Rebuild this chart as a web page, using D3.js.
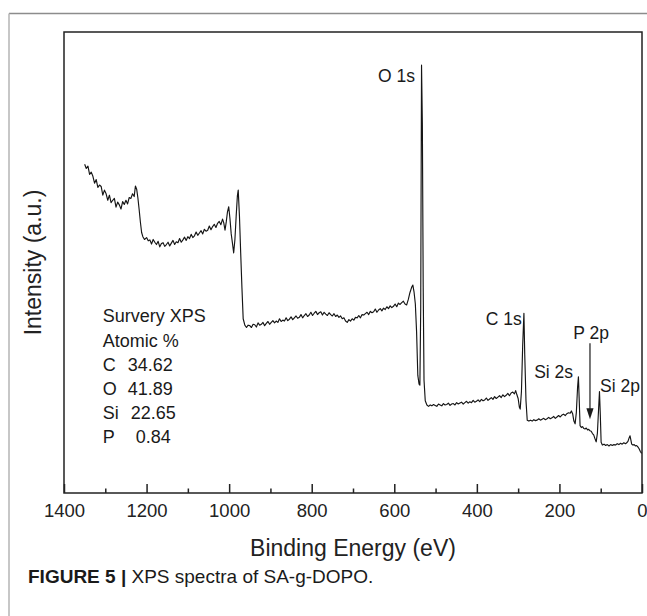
<!DOCTYPE html>
<html><head><meta charset="utf-8">
<script src="https://cdn.jsdelivr.net/npm/d3@7"></script>
<style>
html,body{margin:0;padding:0;background:#fff;}
svg{display:block;font-family:"Liberation Sans",Arial,Helvetica,sans-serif;}
</style>
</head><body>
<svg id="chart" width="647" height="616"></svg>
<script>
// ---------------- DATA ----------------
const majorTicks = [1400, 1200, 1000, 800, 600, 400, 200, 0];
const minorTicks = [1300, 1100, 900, 700, 500, 300, 100];

// spectrum, split by region (binding energy in eV, intensity in a.u.)
const energyA = [1350,1346,1342,1338,1334,1330,1326,1322,1318,1314,1310,1306,1302,1298,1294,1290,1286,1282,1278,1274,1270,1266,1262,1258,1254,1250,1246,1242,1238,1234,1230,1227,1224,1221,1218,1215,1212,1209,1205];
const intensityA = [71.3,70.4,70.9,69.1,69.6,68.7,67.2,68.0,66.3,66.8,66.5,64.6,65.7,64.9,63.5,64.6,63.0,63.5,63.9,62.0,63.1,62.5,61.6,63.2,62.6,63.5,62.7,64.1,63.9,64.9,64.3,66.6,65.9,64.0,61.5,58.8,56.5,55.6,55.0];

const energyB = [1200,1196,1192,1188,1184,1180,1176,1172,1168,1164,1160,1156,1152,1148,1144,1140,1136,1132,1128,1124,1120,1116,1112,1108,1104,1100,1096,1092,1088,1084,1080,1076,1072,1068,1064,1060,1056,1052,1048,1044,1040,1036,1032,1028,1024,1020,1016,1013];
const intensityB = [55.4,54.7,54.9,54.0,55.0,54.4,53.9,54.6,53.4,54.1,54.3,53.5,53.9,54.4,53.6,54.2,54.8,53.9,54.5,54.3,55.2,54.4,54.9,55.5,54.8,55.6,55.2,56.1,55.4,55.8,56.6,55.9,56.4,56.9,56.2,57.2,56.8,57.0,57.9,57.1,57.8,58.3,57.6,58.5,58.9,58.2,59.4,58.6];

const energyC = [1010,1007,1004,1001,998,995,992,989,986,983,980,978,975,972,969,966,962];
const intensityC = [57.0,58.8,61.0,62.1,59.5,56.2,54.2,52.1,55.0,60.0,64.5,65.7,60.0,52.0,44.5,37.8,36.4];

const energyD = [958,954,950,946,942,938,934,930,926,922,918,914,910,906,902,898,894,890,886,882,878,874,870,866,862,858,854,850,846,842,838,834,830,826,822,818,814,810,806,802,798,794,790,786,782,778,774,770,766,762,758,754,750,746,742,738,734,730,726,722,718,714,710,706,702,698,694,690,686,682,678,674,670,666,662,658,654,650,646,642,638,634,630,626,622,618,614,610,606,602,598,594,590,586,582,578,574,570];
const intensityD = [35.9,36.4,36.3,35.9,36.6,36.5,36.0,36.9,36.4,36.6,
 37.0,36.3,36.8,37.2,36.6,37.0,37.4,36.9,37.3,37.0,
 37.8,37.2,37.5,37.3,38.0,37.4,37.7,38.2,37.6,38.0,
 38.4,37.9,38.1,38.7,38.0,38.5,38.9,38.3,38.6,39.2,
 38.5,39.0,39.4,38.7,39.1,39.3,38.6,39.2,38.8,38.5,
 39.1,38.7,38.4,38.9,38.3,38.6,38.1,38.4,37.8,38.0,
 37.3,37.0,37.6,37.3,37.8,37.5,38.1,38.0,38.5,38.0,
 38.7,38.6,38.9,39.2,38.7,39.4,39.1,39.3,39.9,39.2,
 39.7,40.0,39.5,40.1,39.8,40.4,40.0,40.6,40.2,40.5,
 41.0,40.4,41.2,40.9,41.3,41.6,41.0,40.8];

const energyE = [566,562,558,555,552,549,546,543,540,538,536,534,532,530,528,525,521,517];
const intensityE = [42.0,43.5,44.6,45.1,43.5,41.0,35.0,25.5,23.6,23.4,40.0,92.8,80.0,45.0,24.5,20.0,19.1,18.8];

const energyF = [513,509,505,501,497,493,489,485,481,477,473,469,465,461,457,453,449,445,441,437,433,429,425,421,417,413,409,405,401,397,393,389,385,381,377,373,369,365,361,357,353,349,345,341,337,333,329,325,321,317,313,309,306,303,300,297,295,292,289,286,284,281,278];
const intensityF = [19.1,18.9,19.2,19.0,18.8,19.3,19.1,18.9,19.4,19.1,
 19.2,19.5,19.0,19.3,19.4,19.1,19.6,19.3,19.5,19.7,
 19.3,19.6,19.9,19.5,19.8,19.6,20.1,19.7,19.9,20.2,
 19.8,20.3,20.0,20.2,20.6,20.1,20.4,20.7,20.3,20.9,
 20.5,20.8,21.1,20.7,21.3,20.9,21.2,21.6,21.1,21.7,
 21.9,21.5,22.2,21.3,20.5,18.6,18.2,22.0,32.0,39.0,30.0,20.0,15.8];

const energyG = [274,270,266,262,258,254,250,246,242,238,234,230,226,222,218,214,210,206,202,198,194,190,186,182,178,174,171];
const intensityG = [15.6,15.8,15.6,15.9,15.7,15.8,16.1,15.8,16.0,16.2,15.9,16.1,16.4,16.1,16.3,16.6,16.2,16.5,16.8,16.5,16.9,17.1,16.8,17.2,17.4,17.3,17.8];

const energyH = [168,165,162,159,156,154,152,150,147,144,141,138,135,132,129,126,123,120,117,114,111,108,105,103,101,99,96,92,88,84,80,76,72,68,64,60,56,52,48,44,40,37,34,31,29,27,25,22,19,16,13,10,7,4,1];
const intensityH = [17.2,15.6,15.0,17.5,23.0,25.2,20.0,14.6,14.2,14.4,14.0,13.9,14.1,13.7,13.8,13.5,13.4,12.9,12.6,11.8,11.1,13.0,18.5,22.0,17.0,11.0,10.4,10.6,10.3,10.5,10.2,10.5,10.3,10.5,10.4,10.7,10.5,10.8,10.6,10.9,10.7,10.9,11.2,12.0,12.4,11.5,10.6,10.4,10.5,10.2,10.3,10.0,9.6,9.0,8.6];

const peakNames = ["O 1s", "C 1s", "Si 2s", "P 2p", "Si 2p"];
const summaryTitle = ["Survery XPS", "Atomic %"];
const elements = ["C", "O", "Si", "P"];
const atomicPercent = [34.62, 41.89, 22.65, 0.84];

// ---------------- BUILD ----------------
const energyAll = [].concat(energyA, energyB, energyC, energyD, energyE, energyF, energyG, energyH);
const intensityAll = [].concat(intensityA, intensityB, intensityC, intensityD, intensityE, intensityF, intensityG, intensityH);
const spectrum = energyAll.map((e, i) => ({e, v: intensityAll[i]}));

const svg = d3.select("#chart");
const X0 = 64, X1 = 642, Y0 = 32, Y1 = 493;
const x = d3.scaleLinear().domain([1400, 0]).range([X0, X1]);
const y = d3.scaleLinear().domain([0, 100]).range([Y1, Y0]);

// outer page frame
svg.append("line").attr("x1", 9).attr("x2", 647).attr("y1", 13.5).attr("y2", 13.5)
  .attr("stroke", "#8c8c8c").attr("stroke-width", 1.3);
svg.append("line").attr("x1", 9).attr("x2", 9).attr("y1", 13.5).attr("y2", 616)
  .attr("stroke", "#b4b4b4").attr("stroke-width", 1.5);

// plot box
svg.append("rect").attr("x", X0).attr("y", Y0).attr("width", X1 - X0).attr("height", Y1 - Y0)
  .attr("fill", "none").attr("stroke", "#222").attr("stroke-width", 1.5);

// x axis major
const gx = svg.append("g").attr("transform", `translate(0,${Y1})`)
  .call(d3.axisBottom(x).tickValues(majorTicks).tickSize(-9).tickPadding(10.5).tickFormat(d3.format("d")));
gx.select(".domain").remove();
gx.selectAll(".tick line").attr("stroke", "#222").attr("stroke-width", 1.5);
gx.selectAll(".tick text").attr("fill", "#222").style("font-size", "18.5px")
  .style("font-family", '"Liberation Sans",Arial,sans-serif');

// x axis minor
const gxm = svg.append("g").attr("transform", `translate(0,${Y1})`)
  .call(d3.axisBottom(x).tickValues(minorTicks).tickSize(-4.5).tickFormat(""));
gxm.select(".domain").remove();
gxm.selectAll(".tick line").attr("stroke", "#222").attr("stroke-width", 1.5);

// axis titles
svg.append("text").attr("x", (X0 + X1) / 2).attr("y", 548).attr("dy", "0.35em")
  .attr("text-anchor", "middle").attr("fill", "#222").style("font-size", "23px")
  .text("Binding Energy (eV)");
svg.append("text").attr("transform", `translate(33,${(Y0 + Y1) / 2}) rotate(-90)`).attr("dy", "0.35em")
  .attr("text-anchor", "middle").attr("fill", "#222").style("font-size", "23px")
  .text("Intensity (a.u.)");

// spectrum
const line = d3.line().x(d => x(d.e)).y(d => y(d.v));
svg.append("path").datum(spectrum).attr("d", line)
  .attr("fill", "none").attr("stroke", "#151515").attr("stroke-width", 1.15).attr("stroke-linejoin", "round");

// peak labels
const lab = svg.append("g").attr("fill", "#1a1a1a").style("font-size", "17.5px");
lab.append("text").attr("x", x(550)).attr("y", y(90.5)).attr("dy", "0.35em").attr("text-anchor", "end").text(peakNames[0]);
lab.append("text").attr("x", x(291)).attr("y", y(37.7)).attr("dy", "0.35em").attr("text-anchor", "end").text(peakNames[1]);
lab.append("text").attr("x", x(167)).attr("y", y(26.2)).attr("dy", "0.35em").attr("text-anchor", "end").text(peakNames[2]);
lab.append("text").attr("x", x(123)).attr("y", y(34.7)).attr("dy", "0.35em").attr("text-anchor", "middle").text(peakNames[3]);
lab.append("text").attr("x", x(101.5)).attr("y", y(23.2)).attr("dy", "0.35em").attr("text-anchor", "start").text(peakNames[4]);

// P 2p arrow
const ax = x(126);
svg.append("line").attr("x1", ax).attr("x2", ax).attr("y1", y(32.5)).attr("y2", y(18))
  .attr("stroke", "#1a1a1a").attr("stroke-width", 1.2);
svg.append("path")
  .attr("d", `M${ax - 3.6},${y(18.4)} L${ax + 3.6},${y(18.4)} L${ax},${y(16.0)} Z`)
  .attr("fill", "#1a1a1a");

// composition block
const bx = x(1306), by0 = 316, lh = 24.2;
const blk = svg.append("g").attr("fill", "#1a1a1a").style("font-size", "18px");
summaryTitle.forEach((t, i) => {
  blk.append("text").attr("x", bx).attr("y", by0 + i * lh).attr("dy", "0.35em").text(t);
});
const valOffset = [25, 25, 28, 33];
elements.forEach((el, i) => {
  const yy = by0 + (i + 2) * lh;
  blk.append("text").attr("x", bx).attr("y", yy).attr("dy", "0.35em").text(el);
  blk.append("text").attr("x", bx + valOffset[i]).attr("y", yy).attr("dy", "0.35em").text(atomicPercent[i].toFixed(2));
});

// caption
const cap = svg.append("text").attr("x", 28).attr("y", 576).attr("dy", "0.35em")
  .attr("fill", "#1a1a1a").style("font-size", "19px");
cap.append("tspan").style("font-weight", "bold").text("FIGURE 5 | ");
cap.append("tspan").text("XPS spectra of SA-g-DOPO.");
</script>
</body></html>
